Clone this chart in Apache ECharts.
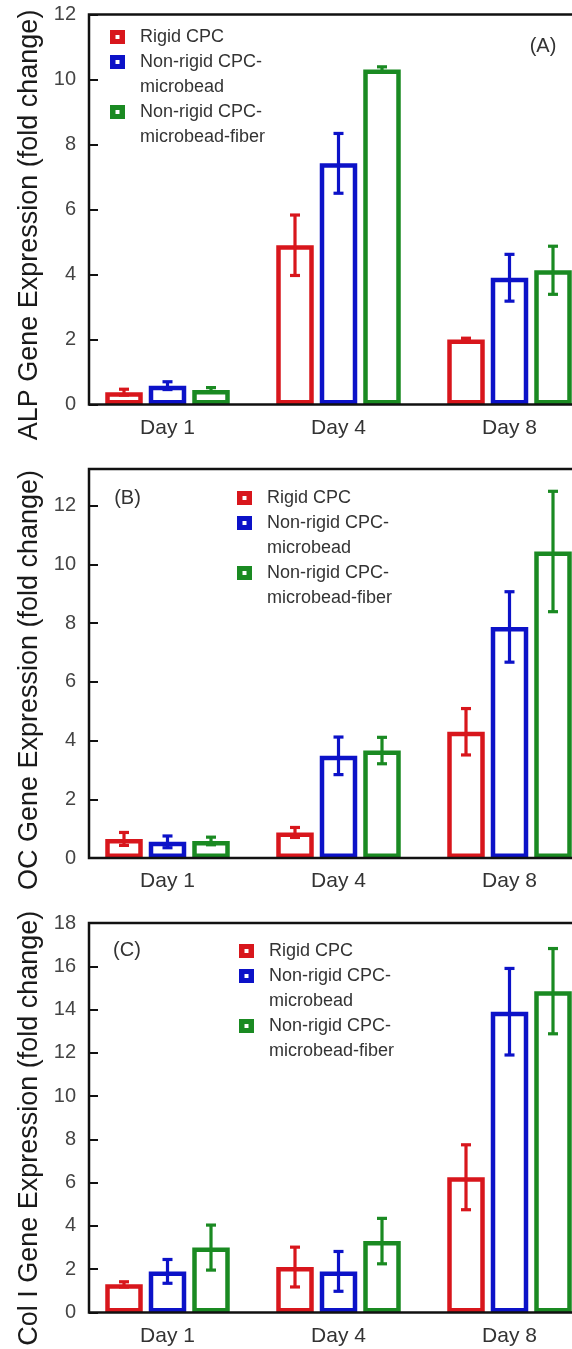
<!DOCTYPE html>
<html><head><meta charset="utf-8">
<script src="https://cdn.jsdelivr.net/npm/echarts@6/dist/echarts.min.js"></script>
<style>html,body{margin:0;padding:0;background:#fff}#c{width:572px;height:1349px}</style>
</head><body><div id="c"></div>
<script>
// ---------- data ----------
const categories = ['Day 1', 'Day 4', 'Day 8'];
const seriesNames = ['Rigid CPC', 'Non-rigid CPC-microbead', 'Non-rigid CPC-microbead-fiber'];
const legendLabels = ['Rigid CPC', ' \nNon-rigid CPC-\nmicrobead', ' \nNon-rigid CPC-\nmicrobead-fiber'];
const panelLabels = ['(A)', '(B)', '(C)'];
const yNames = ['ALP Gene Expression (fold change)', 'OC Gene Expression (fold change)', 'Col I Gene Expression (fold change)'];
const yMax = [12, 13.25, 18];
const yTickStep = [2, 2, 2];

const alpRigid = [0.38, 4.90, 2.00];
const alpRigidErr = [0.09, 0.93, 0.04];
const alpBead = [0.58, 7.42, 3.90];
const alpBeadErr = [0.12, 0.92, 0.72];
const alpFiber = [0.45, 10.31, 4.13];
const alpFiberErr = [0.07, 0.08, 0.74];

const ocRigid = [0.65, 0.87, 4.30];
const ocRigidErr = [0.22, 0.17, 0.79];
const ocBead = [0.55, 3.48, 7.87];
const ocBeadErr = [0.20, 0.64, 1.20];
const ocFiber = [0.58, 3.66, 10.44];
const ocFiberErr = [0.13, 0.45, 2.05];

const colRigid = [1.30, 2.10, 6.25];
const colRigidErr = [0.12, 0.92, 1.50];
const colBead = [1.90, 1.90, 13.90];
const colBeadErr = [0.55, 0.92, 2.00];
const colFiber = [3.00, 3.30, 14.85];
const colFiberErr = [1.04, 1.05, 1.97];

const means = [[alpRigid, alpBead, alpFiber], [ocRigid, ocBead, ocFiber], [colRigid, colBead, colFiber]];
const errs = [[alpRigidErr, alpBeadErr, alpFiberErr], [ocRigidErr, ocBeadErr, ocFiberErr], [colRigidErr, colBeadErr, colFiberErr]];

// ---------- style / layout ----------
const FONT = "'Liberation Sans', Arial, Helvetica, sans-serif";
const colors = ['#d8161c', '#0c12c8', '#1a8a22'];
const panelTop = [14.5, 469, 923];
const panelHeight = [390, 389, 389.5];
const legendPos = [[110, 24.5], [237, 485.5], [239, 938.5]];
const labelPos = [[543, 46], [127.5, 498], [127, 950]];
const namePad = [31, 33, 21];
const BAR_W = 37.5, BAR_GAP = 0.16;
const ICON = 'path://M0 0H15V14H0Z M5.5 5V9H9.5V5Z';

const grid = [], xAxis = [], yAxis = [], series = [], legend = [], graphic = [];

function errRender(color, offset) {
  return function (params, api) {
    const i = api.value(0), v = api.value(1), e = api.value(2);
    const hi = api.coord([i, v + e]);
    const lo = api.coord([i, v - e]);
    const x = hi[0] + offset, cw = 5;
    const st = { stroke: color, lineWidth: 3.2 };
    return { type: 'group', children: [
      { type: 'line', shape: { x1: x, y1: hi[1], x2: x, y2: lo[1] }, style: st },
      { type: 'line', shape: { x1: x - cw, y1: hi[1], x2: x + cw, y2: hi[1] }, style: st },
      { type: 'line', shape: { x1: x - cw, y1: lo[1], x2: x + cw, y2: lo[1] }, style: st }
    ] };
  };
}

for (let p = 0; p < 3; p++) {
  const gMain = 2 * p, gFrame = 2 * p + 1;
  grid.push({ left: 82, width: 513, top: panelTop[p], height: panelHeight[p], outerBoundsMode: 'none', containLabel: false });
  grid.push({ left: 89, width: 520, top: panelTop[p], height: panelHeight[p], show: true, outerBoundsMode: 'none', containLabel: false,
    borderColor: '#111', borderWidth: 2.5, backgroundColor: 'transparent', z: 5 });

  xAxis.push({ gridIndex: gMain, type: 'category', data: categories,
    axisLine: { show: false }, axisTick: { show: false },
    axisLabel: { fontSize: 21, color: '#333', margin: 13, fontFamily: FONT } });
  xAxis.push({ gridIndex: gFrame, type: 'value', show: false, min: 0, max: 1 });

  yAxis.push({ gridIndex: gMain, type: 'value', min: 0, max: yMax[p], show: false });
  yAxis.push({ gridIndex: gFrame, type: 'value', min: 0, max: yMax[p], interval: yTickStep[p], z: 6,
    axisLine: { show: false },
    axisTick: { show: true, inside: true, length: 9, lineStyle: { color: '#111', width: 2 } },
    splitLine: { show: false },
    axisLabel: { fontSize: 20, color: '#444', margin: 13, fontFamily: FONT,
      formatter: v => (Math.abs(v / yTickStep[p] - Math.round(v / yTickStep[p])) < 1e-6 ? String(v) : '') },
    name: yNames[p], nameLocation: 'middle', nameGap: 46,
    nameTextStyle: { fontSize: 27, color: '#1a1a1a', fontFamily: FONT, padding: [0, namePad[p], 0, 0] } });

  for (let s = 0; s < 3; s++) {
    series.push({ type: 'bar', name: seriesNames[s], xAxisIndex: gMain, yAxisIndex: gMain,
      data: means[p][s], barWidth: BAR_W, barGap: (BAR_GAP * 100) + '%',
      itemStyle: { color: '#fff', borderColor: colors[s], borderWidth: 4.5 },
      emphasis: { disabled: true }, z: 2 });
    const offset = (s - 1) * BAR_W * (1 + BAR_GAP);
    series.push({ type: 'custom', xAxisIndex: gMain, yAxisIndex: gMain, z: 3, silent: true,
      data: categories.map((c, i) => [i, means[p][s][i], errs[p][s][i]]),
      renderItem: errRender(colors[s], offset) });
  }

  legend.push({ left: legendPos[p][0], top: legendPos[p][1], orient: 'vertical', padding: 0,
    itemGap: -25, itemWidth: 15, itemHeight: 14, icon: ICON, selectedMode: false,
    data: seriesNames.map((n, s) => ({ name: n, itemStyle: { color: colors[s], borderWidth: 0 } })),
    formatter: n => legendLabels[seriesNames.indexOf(n)],
    textStyle: { fontSize: 18, color: '#333', lineHeight: 25, fontFamily: FONT, padding: [0, 0, 0, 10] } });

  graphic.push({ type: 'text', x: labelPos[p][0], y: labelPos[p][1], z: 10,
    style: { text: panelLabels[p], fill: '#333', font: '20px ' + FONT, align: 'center', verticalAlign: 'middle' } });
}

const chart = echarts.init(document.getElementById('c'));
chart.setOption({ animation: false, backgroundColor: '#fff', grid, xAxis, yAxis, series, legend, graphic });
</script></body></html>
